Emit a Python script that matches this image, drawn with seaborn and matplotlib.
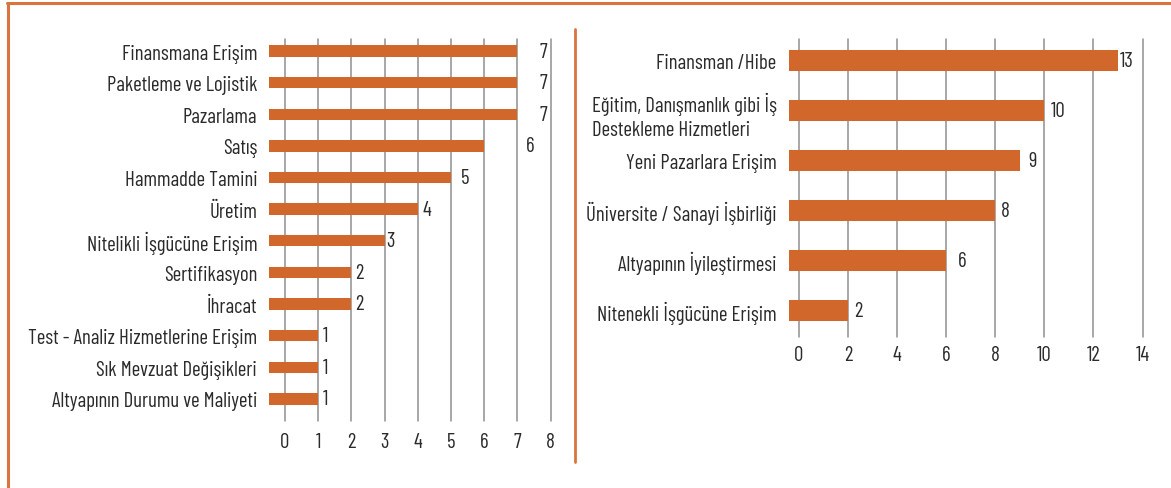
import matplotlib
matplotlib.use("Agg")
import matplotlib.pyplot as plt
import seaborn as sns
import pandas as pd
from matplotlib.lines import Line2D

# Left panel: problems faced
left_categories = [
    "Finansmana Erişim",
    "Paketleme ve Lojistik",
    "Pazarlama",
    "Satış",
    "Hammadde Tamini",
    "Üretim",
    "Nitelikli İşgücüne Erişim",
    "Sertifikasyon",
    "İhracat",
    "Test - Analiz Hizmetlerine Erişim",
    "Sık Mevzuat Değişikleri",
    "Altyapının Durumu ve Maliyeti",
]
left_values = [7, 7, 7, 6, 5, 4, 3, 2, 2, 1, 1, 1]
left_ticks = [0, 1, 2, 3, 4, 5, 6, 7, 8]

# Right panel: expected support
right_categories = [
    "Finansman /Hibe",
    "Eğitim, Danışmanlık gibi İş\nDestekleme Hizmetleri",
    "Yeni Pazarlara Erişim",
    "Üniversite / Sanayi İşbirliği",
    "Altyapının İyileştirmesi",
    "Nitenekli İşgücüne Erişim",
]
right_values = [13, 10, 9, 8, 6, 2]
right_ticks = [0, 2, 4, 6, 8, 10, 12, 14]

ORANGE = "#D2672B"
FRAME = "#D9743D"
TEXT = "#2b2b2b"
GRID = "#8f8f8f"
FS = 15

sns.set_theme(style="white")
plt.rcParams["font.family"] = ["Barlow Condensed", "DejaVu Sans"]
plt.rcParams["font.weight"] = 400

W, H = 1171, 489
fig = plt.figure(figsize=(W / 100, H / 100), dpi=100)


def frac_box(x0, y0, x1, y1):
    return [x0 / W, 1 - y1 / H, (x1 - x0) / W, (y1 - y0) / H]


def panel(rect, cats, vals, ticks, xlim, ylim, bar_h, label_pad, value_px, tick_pad):
    ax = fig.add_axes(rect)
    df = pd.DataFrame({"cat": cats, "val": vals})
    sns.barplot(data=df, x="val", y="cat", orient="h", color=ORANGE,
                saturation=1, width=bar_h, ax=ax, zorder=3)
    ax.set_xlim(*xlim)
    ax.set_ylim(*ylim)
    # bars run in from the left edge of the plot area
    for p, v in zip(ax.patches, vals):
        p.set_x(xlim[0])
        p.set_width(v - xlim[0])
        p.set_edgecolor("none")
    for t in ticks:
        ax.axvline(t, color=GRID, lw=1.1, zorder=1, clip_on=False)
    ax.set_xticks(ticks)
    ax.set_xticklabels([str(t) for t in ticks])
    ax.set_xlabel("")
    ax.set_ylabel("")
    for s in ax.spines.values():
        s.set_visible(False)
    ax.tick_params(axis="x", length=0, pad=tick_pad, labelsize=FS, labelcolor=TEXT)
    ax.tick_params(axis="y", length=0, pad=label_pad, labelsize=FS, labelcolor=TEXT)
    for lab in ax.get_yticklabels():
        lab.set_multialignment("left")
        lab.set_linespacing(1.35)
    for i, (v, off) in enumerate(zip(vals, value_px)):
        ax.annotate(str(v), (v, i), xytext=(off, 0), textcoords="offset pixels",
                    ha="left", va="center", fontsize=FS, color=TEXT, zorder=4)
    return ax


left_offsets = [22, 22, 22, 42, 10, 5, 2, 4, 4, 5, 5, 5]
right_offsets = [2, 6, 9, 6, 12, 6]

panel(frac_box(269, 40, 550.5, 422), left_categories, left_values, left_ticks,
      (-0.483, 8.0), (11.7, -0.38), 0.36, 8.5, left_offsets, 8)
panel(frac_box(789, 40, 1142.5, 338), right_categories, right_values, right_ticks,
      (-0.41, 14.0), (5.54, -0.435), 0.42, 9, right_offsets, 5.5)

# orange frame and divider
fig.add_artist(Line2D([7 / W, 1], [1 - 4 / H, 1 - 4 / H], color=FRAME, lw=2.2,
                      transform=fig.transFigure))
fig.add_artist(Line2D([8 / W, 8 / W], [1 - 4 / H, 0], color=FRAME, lw=2.2,
                      transform=fig.transFigure))
fig.add_artist(Line2D([575 / W, 575 / W], [1 - 30 / H, 1 - 463 / H], color=FRAME,
                      lw=2.0, transform=fig.transFigure))

fig.savefig("out.png", dpi=100, facecolor="white")
